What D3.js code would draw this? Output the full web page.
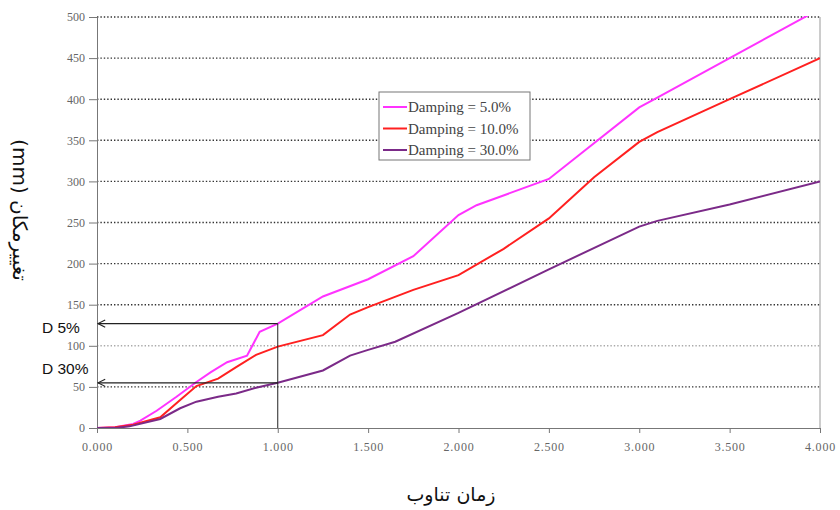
<!DOCTYPE html>
<html>
<head>
<meta charset="utf-8">
<script src="https://cdn.jsdelivr.net/npm/d3@7"></script>
<style>
body { margin: 0; background: #fff; }
.tick text { font-family: "Liberation Serif", serif; font-size: 12px; fill: #666; }
</style>
</head>
<body>
<svg id="chart" width="840" height="510"></svg>
<script>
// data: [period, displacement]
var damping5 = [[0,0],[0.1,1],[0.2,5],[0.24,9],[0.33,21],[0.44,38],[0.55,56],[0.63,68],[0.72,80],[0.83,88],[0.9,117],[1.0,127],
    [1.25,160],[1.5,181],[1.75,209],[2.0,259],[2.1,271],[2.5,303],[3.0,390],[3.1,402],[3.5,450],[4.0,510]];
var damping10 = [[0,0],[0.1,1],[0.2,4],[0.35,13],[0.46,34],[0.55,51],[0.67,60],[0.77,74],[0.88,89],[1.0,99],
    [1.25,113],[1.4,138],[1.5,147],[1.75,168],[2.0,186],[2.25,218],[2.5,255],[2.75,305],[3.0,348],[3.1,360],[3.5,400],[4.0,450]];
var damping30 = [[0,0],[0.1,0],[0.18,2],[0.35,11],[0.46,24],[0.55,32],[0.67,38],[0.77,42],[0.88,49],[1.0,55],
    [1.25,70],[1.4,88],[1.5,95],[1.65,105],[2.0,140],[2.5,193],[3.0,245],[3.1,252],[3.5,272],[4.0,300]];
var seriesNames = ["Damping = 5.0%", "Damping = 10.0%", "Damping = 30.0%"];
var seriesColors = ["#ff33ff", "#ff2020", "#7b2a88"];
var xTicks = [0,0.5,1,1.5,2,2.5,3,3.5,4];
var yTicks = [0,50,100,150,200,250,300,350,400,450,500];
var marks = [{label:"D 5%", x:1.0, y:127, dy:9}, {label:"D 30%", x:1.0, y:55, dy:-9}];

var plotL = 97, plotR = 820, plotT = 17, plotB = 428;
var svg = d3.select("#chart");

var xScale = d3.scaleLinear().domain([0,4]).range([plotL,plotR]);
var yScale = d3.scaleLinear().domain([0,500]).range([plotB,plotT]);

svg.append("defs").append("clipPath").attr("id","plotclip")
    .append("rect").attr("x",plotL).attr("y",plotT-1).attr("width",plotR-plotL).attr("height",plotB-plotT+1);
var mk = svg.select("defs").append("marker")
    .attr("id","arr").attr("viewBox","0 0 10 10").attr("refX",9).attr("refY",5)
    .attr("markerWidth",9).attr("markerHeight",9).attr("orient","auto")
    .attr("markerUnits","userSpaceOnUse");
mk.append("path").attr("d","M1,1 L9,5 L1,9").attr("fill","none").attr("stroke","#222").attr("stroke-width",1.2);

// dotted gridlines
svg.append("g").selectAll("line").data(yTicks.filter(function(d){return d>0;})).enter()
    .append("line")
    .attr("x1",plotL).attr("x2",plotR)
    .attr("y1",function(d){return yScale(d);}).attr("y2",function(d){return yScale(d);})
    .attr("stroke",function(d){return d==100 ? "#aaa" : "#333";})
    .attr("stroke-width",1.4)
    .attr("stroke-dasharray","1.4,2");

// axes
var xAxis = d3.axisBottom(xScale).tickValues(xTicks).tickFormat(d3.format(".3f")).tickSize(5).tickSizeOuter(0);
var yAxis = d3.axisLeft(yScale).tickValues(yTicks).tickSize(8).tickSizeOuter(0);
var gx = svg.append("g").attr("transform","translate(0,"+plotB+")").call(xAxis);
gx.selectAll("text").attr("dy","1.25em").style("letter-spacing","0.8px");
var gy = svg.append("g").attr("transform","translate("+plotL+",0)").call(yAxis);
gy.selectAll("text").attr("x",-12);
svg.selectAll(".domain, .tick line").attr("stroke","#777");
svg.append("line").attr("x1",plotR).attr("x2",plotR).attr("y1",plotT).attr("y2",plotB).attr("stroke","#999");

// curves
var line = d3.line()
    .x(function(d){return xScale(d[0]);})
    .y(function(d){return yScale(d[1]);});
var allSeries = [damping5, damping10, damping30];
svg.append("g").attr("clip-path","url(#plotclip)")
    .selectAll("path").data(allSeries).enter()
    .append("path")
    .attr("d", line)
    .attr("fill","none")
    .attr("stroke",function(d,i){return seriesColors[i];})
    .attr("stroke-width",2);

// reading lines with arrows
var ann = svg.append("g");
ann.append("line")
    .attr("x1",xScale(1)).attr("x2",xScale(1))
    .attr("y1",yScale(marks[0].y)).attr("y2",yScale(0))
    .attr("stroke","#222").attr("stroke-width",1);
marks.forEach(function(m){
    ann.append("line")
        .attr("x1",xScale(m.x)).attr("x2",xScale(0)+1)
        .attr("y1",yScale(m.y)).attr("y2",yScale(m.y))
        .attr("stroke","#222").attr("stroke-width",1.2)
        .attr("marker-end","url(#arr)");
    ann.append("text")
        .text(m.label)
        .attr("x", 42)
        .attr("y", yScale(m.y)+m.dy)
        .attr("font-family","Liberation Sans, Arial, sans-serif")
        .attr("font-size",15.5)
        .attr("fill","#111");
});

// legend
var leg = svg.append("g").attr("transform","translate(379,92)");
leg.append("rect").attr("width",151).attr("height",68).attr("fill","#fff").attr("stroke","#777");
seriesNames.forEach(function(n,i){
    var yy = 15 + i*21.5;
    leg.append("line").attr("x1",4).attr("x2",28).attr("y1",yy).attr("y2",yy)
        .attr("stroke",seriesColors[i]).attr("stroke-width",2);
    leg.append("text").text(n).attr("x",29).attr("y",yy+5)
        .attr("font-family","Liberation Serif, serif").attr("font-size",15).attr("fill","#444");
});

// titles
svg.append("text")
    .text("زمان تناوب")
    .attr("x",451).attr("y",501)
    .attr("text-anchor","middle")
    .attr("font-family","DejaVu Sans, Noto Sans, sans-serif")
    .attr("font-size",19)
    .attr("fill","#111");
svg.append("text")
    .text("تغییرمکان (mm)")
    .attr("direction","rtl")
    .attr("transform","translate(13,210) rotate(90)")
    .attr("text-anchor","middle")
    .attr("font-family","DejaVu Sans, Noto Sans, sans-serif")
    .attr("font-size",20)
    .attr("fill","#111");
</script>
</body>
</html>
